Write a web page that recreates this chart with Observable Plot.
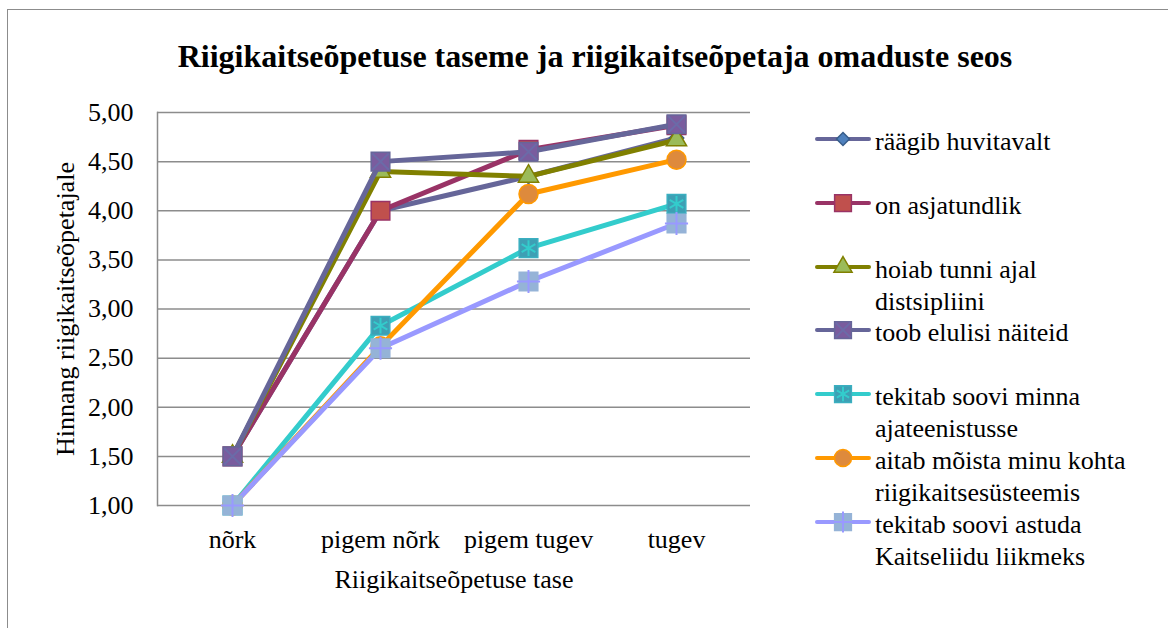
<!DOCTYPE html>
<html>
<head>
<meta charset="utf-8">
<script src="https://cdn.jsdelivr.net/npm/d3@7"></script>
<script src="https://cdn.jsdelivr.net/npm/@observablehq/plot@0.6"></script>
<style>
  html, body { margin: 0; padding: 0; background: #fff; }
  body { font-family: "Liberation Serif", "Times New Roman", serif; color: #000; }
  #page { position: relative; width: 1168px; height: 628px; overflow: hidden; }
  #frame { position: absolute; left: 7px; top: 9px; width: 1300px; height: 800px; border: 1.5px solid #8c8c8c; box-sizing: border-box; }
  #title { position: absolute; left: 0; top: 38px; width: 1190px; text-align: center; font-weight: bold; font-size: 32px; line-height: 36px; font-family: "Liberation Serif", "Times New Roman", serif; }
  #chart { position: absolute; left: 0; top: 90px; }
  #legend { position: absolute; left: 0; top: 0; font-size: 26px; line-height: 32px; font-family: "Liberation Serif", "Times New Roman", serif; color: #000; }
  .ltext { font-family: "Liberation Serif", "Times New Roman", serif; font-size: 26px; line-height: 32px; }
</style>
</head>
<body>
<div id="page">
  <div id="frame"></div>
  <div id="title"></div>
  <div id="chart"></div>
  <div id="legend"></div>
</div>
<script>
// ---- data ----
const chartTitle = "Riigikaitseõpetuse taseme ja riigikaitseõpetaja omaduste seos";
const xTitle = "Riigikaitseõpetuse tase";
const yTitle = "Hinnang riigikaitseõpetajale";
const levels = ["nõrk", "pigem nõrk", "pigem tugev", "tugev"];
const seriesNames = [
  "räägib huvitavalt",
  "on asjatundlik",
  "hoiab tunni ajal distsipliini",
  "toob elulisi näiteid",
  "tekitab soovi minna ajateenistusse",
  "aitab mõista minu kohta riigikaitsesüsteemis",
  "tekitab soovi astuda Kaitseliidu liikmeks"
];
const raagibHuvitavalt  = [1.50, 4.00, 4.35, 4.74];
const onAsjatundlik     = [1.50, 4.00, 4.62, 4.87];
const hoiabDistsipliini = [1.50, 4.40, 4.35, 4.72];
const toobNaiteid       = [1.50, 4.50, 4.60, 4.88];
const soovAjateenistus  = [1.00, 2.83, 3.62, 4.07];
const aitabMoista       = [1.00, 2.62, 4.17, 4.52];
const soovKaitseliit    = [1.00, 2.60, 3.28, 3.87];
const yTicks = [1, 1.5, 2, 2.5, 3, 3.5, 4, 4.5, 5];

const seriesValues = [raagibHuvitavalt, onAsjatundlik, hoiabDistsipliini, toobNaiteid, soovAjateenistus, aitabMoista, soovKaitseliit];

// ---- styles ----
const styles = [
  {line: "#666699", symbol: "diamond2", r: 6.5, fill: "#4F81BD", edge: "#385D8A", overlay: null},
  {line: "#993366", symbol: "square", r: 10.5, fill: "#C0504D", edge: "#993366", overlay: null},
  {line: "#808000", symbol: "triangle", r: 7.5, fill: "#9BBB59", edge: "#808000", overlay: null},
  {line: "#666699", symbol: "square", r: 10.5, fill: "#7A5C9E", edge: "#666699", overlay: "times", or: 7.5, ostroke: "#6B6BA8"},
  {line: "#33CCCC", symbol: "square", r: 10.5, fill: "#3E9FB4", edge: "#3AAFC0", overlay: "asterisk", or: 7.5, ostroke: "#33CCCC"},
  {line: "#FF9900", symbol: "circle", r: 9.5, fill: "#DE8A3C", edge: "#FF9900", overlay: null},
  {line: "#9999FF", symbol: "square", r: 10.5, fill: "#95B3D7", edge: "#95B3D7", overlay: "plus", or: 7.5, ostroke: "#9999FF"}
];

document.getElementById("title").textContent = chartTitle;

const rows = [];
seriesValues.forEach((vals, i) => vals.forEach((v, j) => rows.push({idx: i, series: seriesNames[i], level: levels[j], value: v})));

const W = 800, H = 538;
const marks = [
  Plot.ruleY(yTicks, {stroke: "#8c8c8c", strokeWidth: 1.5}),
  Plot.frame({anchor: "left", stroke: "#8c8c8c", strokeWidth: 1.5}),
  Plot.axisY({ticks: yTicks, tickFormat: d => d.toFixed(2).replace(".", ","), tickSize: 0, tickPadding: 24,
              label: yTitle, labelAnchor: "center", labelArrow: "none", labelOffset: 102}),
  Plot.axisX({tickSize: 0, tickPadding: 24, label: xTitle, labelAnchor: "center", labelOffset: 82})
];
styles.forEach((s, i) => {
  const d = rows.filter(r => r.idx === i);
  marks.push(Plot.line(d, {x: "level", y: "value", stroke: s.line, strokeWidth: 5, strokeLinejoin: "round"}));
  marks.push(Plot.dot(d, {x: "level", y: "value", symbol: s.symbol, r: s.r, fill: s.fill, stroke: s.edge, strokeWidth: 1.5}));
  if (s.overlay) marks.push(Plot.dot(d, {x: "level", y: "value", symbol: s.overlay, r: s.or, stroke: s.ostroke, strokeWidth: 2}));
});

const chart = Plot.plot({
  width: W, height: H,
  marginLeft: 157, marginRight: W - 750, marginTop: 22, marginBottom: 123,
  x: {type: "point", domain: levels, padding: 0.5},
  y: {domain: [1, 5]},
  style: {fontFamily: "'Liberation Serif', 'Times New Roman', serif", fontSize: "26px", color: "#000", background: "transparent", overflow: "visible"},
  marks
});
document.getElementById("chart").appendChild(chart);

// ---- legend ----
const symbolMap = {
  diamond2: d3.symbolDiamond2, square: d3.symbolSquare, triangle: d3.symbolTriangle, circle: d3.symbolCircle,
  times: d3.symbolTimes || d3.symbolX, asterisk: d3.symbolAsterisk, plus: d3.symbolPlus
};
const legend = d3.select("#legend");
seriesNames.forEach((name, i) => {
  const s = styles[i];
  const cy = 139 + i * 63.8;
  const item = legend.append("div").style("position", "absolute").style("left", "815px").style("top", (cy - 13) + "px");
  const svg = item.append("svg").attr("width", 56).attr("height", 26)
    .style("position", "absolute").style("left", "0px").style("top", "0px").style("overflow", "visible");
  svg.append("line").attr("x1", 2).attr("x2", 54).attr("y1", 13).attr("y2", 13)
    .attr("stroke", s.line).attr("stroke-width", 4).attr("stroke-linecap", "round");
  const size = Math.PI * (s.r * 0.9) * (s.r * 0.9);
  svg.append("path").attr("transform", "translate(28,13)")
    .attr("d", d3.symbol(symbolMap[s.symbol], size)())
    .attr("fill", s.fill).attr("stroke", s.edge).attr("stroke-width", 1.5);
  if (s.overlay && symbolMap[s.overlay]) {
    svg.append("path").attr("transform", "translate(28,13)")
      .attr("d", d3.symbol(symbolMap[s.overlay], Math.PI * (s.or * 0.9) * (s.or * 0.9))())
      .attr("fill", "none").attr("stroke", s.ostroke).attr("stroke-width", 2);
  }
  item.append("div").attr("class", "ltext").style("position", "absolute").style("left", "60px").style("top", "0px")
    .style("width", "275px").text(name);
});
</script>
</body>
</html>
